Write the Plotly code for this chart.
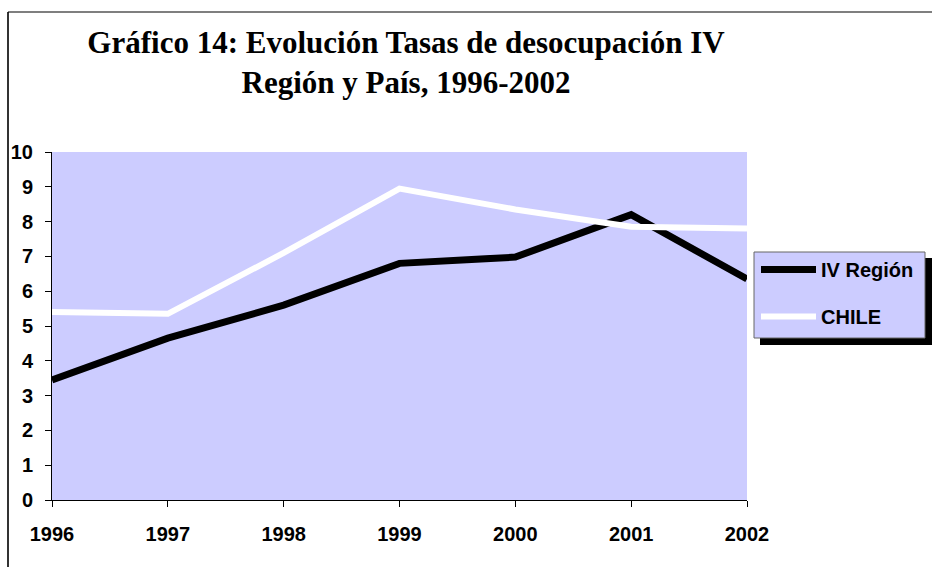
import plotly.graph_objects as go

years = [1996, 1997, 1998, 1999, 2000, 2001, 2002]
iv_region = [3.45, 4.65, 5.6, 6.8, 6.98, 8.2, 6.35]
chile = [5.4, 5.35, 7.1, 8.95, 8.35, 7.85, 7.8]
y_ticks = list(range(0, 11))

W, H = 932, 567
L, R, T, B = 52, 185, 152, 67
pw, ph = W - L - R, H - T - B

def px_x(x):
    return (x - L) / pw

def px_y(y):
    return (H - B - y) / ph

fig = go.Figure()
fig.add_trace(go.Scatter(x=years, y=iv_region, mode="lines", name="IV Región",
                         line=dict(color="black", width=7), legendgroup="a"))
fig.add_trace(go.Scatter(x=years, y=chile, mode="lines", name="CHILE",
                         line=dict(color="white", width=6), legendgroup="b"))

shapes = [
    # outer frame
    dict(type="line", xref="paper", yref="paper", x0=px_x(8), x1=px_x(8), y0=px_y(12), y1=px_y(580),
         line=dict(color="#333333", width=2)),
    dict(type="line", xref="paper", yref="paper", x0=px_x(8), x1=px_x(950), y0=px_y(12), y1=px_y(12),
         line=dict(color="black", width=1.2)),
    # legend shadow and box
    dict(type="rect", xref="paper", yref="paper", x0=px_x(760), x1=px_x(932), y0=px_y(345), y1=px_y(258),
         fillcolor="black", line=dict(width=0)),
    dict(type="rect", xref="paper", yref="paper", x0=px_x(754), x1=px_x(925), y0=px_y(338), y1=px_y(252),
         fillcolor="#CCCCFF", line=dict(color="#666666", width=1)),
]

fig.update_layout(
    width=W, height=H,
    margin=dict(l=L, r=R, t=T, b=B, autoexpand=False),
    paper_bgcolor="white",
    plot_bgcolor="#CCCCFF",
    title=dict(text="Gráfico 14: Evolución Tasas de desocupación IV<br>Región y País, 1996-2002",
               x=406 / W, xanchor="center", y=1 - 53 / H, yanchor="middle",
               font=dict(family="Liberation Serif", size=31, color="black", weight="bold")),
    shapes=shapes,
    showlegend=True,
    legend=dict(x=px_x(756), y=px_y(250), xanchor="left", yanchor="top",
                bgcolor="rgba(0,0,0,0)", borderwidth=0, itemwidth=55,
                tracegroupgap=18,
                font=dict(family="Liberation Sans", size=20, color="black", weight="bold")),
    xaxis=dict(range=[1996, 2002], tickmode="array", tickvals=years, ticktext=[str(y) for y in years],
               showgrid=False, zeroline=False, showline=True, linecolor="black", linewidth=1,
               ticks="outside", ticklen=6, tickcolor="black", ticklabelstandoff=10,
               tickfont=dict(family="Liberation Sans", size=20, color="black", weight="bold")),
    yaxis=dict(range=[0, 10], tickmode="array", tickvals=y_ticks,
               showgrid=False, zeroline=False, showline=True, linecolor="black", linewidth=1,
               ticks="outside", ticklen=6, tickcolor="black", ticklabelstandoff=8,
               tickfont=dict(family="Liberation Sans", size=20, color="black", weight="bold")),
)

fig.write_html("out.html", config={"displayModeBar": False},
               post_script="document.body.style.margin='0';")
